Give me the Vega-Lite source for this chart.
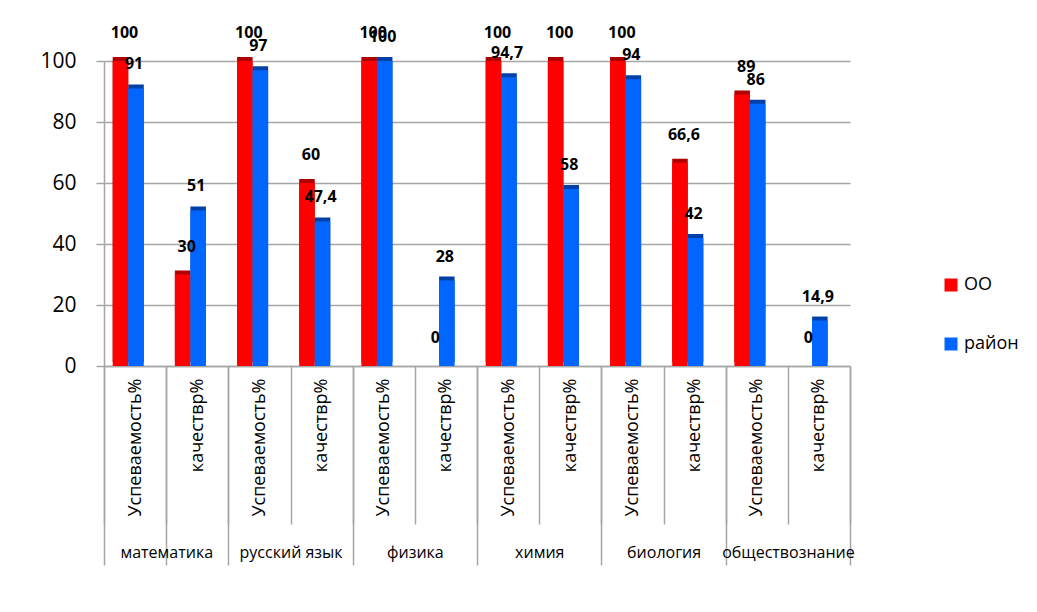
{
  "$schema": "https://vega.github.io/schema/vega-lite/v6.json",
  "width": 746,
  "height": 305,
  "autosize": {"type": "none"},
  "padding": {"left": 104, "top": 61, "right": 187, "bottom": 246},
  "background": "white",
  "data": {
    "values": [
      {"key": "математика|Успеваемость%", "series": "ОО", "value": 100, "label": "100"},
      {"key": "математика|Успеваемость%", "series": "район", "value": 91, "label": "91"},
      {"key": "математика|качествр%", "series": "ОО", "value": 30, "label": "30"},
      {"key": "математика|качествр%", "series": "район", "value": 51, "label": "51"},
      {"key": "русский язык|Успеваемость%", "series": "ОО", "value": 100, "label": "100"},
      {"key": "русский язык|Успеваемость%", "series": "район", "value": 97, "label": "97"},
      {"key": "русский язык|качествр%", "series": "ОО", "value": 60, "label": "60"},
      {"key": "русский язык|качествр%", "series": "район", "value": 47.4, "label": "47,4"},
      {"key": "физика|Успеваемость%", "series": "ОО", "value": 100, "label": "100"},
      {"key": "физика|Успеваемость%", "series": "район", "value": 100, "label": "100"},
      {"key": "физика|качествр%", "series": "ОО", "value": 0, "label": "0"},
      {"key": "физика|качествр%", "series": "район", "value": 28, "label": "28"},
      {"key": "химия|Успеваемость%", "series": "ОО", "value": 100, "label": "100"},
      {"key": "химия|Успеваемость%", "series": "район", "value": 94.7, "label": "94,7"},
      {"key": "химия|качествр%", "series": "ОО", "value": 100, "label": "100"},
      {"key": "химия|качествр%", "series": "район", "value": 58, "label": "58"},
      {"key": "биология|Успеваемость%", "series": "ОО", "value": 100, "label": "100"},
      {"key": "биология|Успеваемость%", "series": "район", "value": 94, "label": "94"},
      {"key": "биология|качествр%", "series": "ОО", "value": 66.6, "label": "66,6"},
      {"key": "биология|качествр%", "series": "район", "value": 42, "label": "42"},
      {"key": "обществознание|Успеваемость%", "series": "ОО", "value": 89, "label": "89"},
      {"key": "обществознание|Успеваемость%", "series": "район", "value": 86, "label": "86"},
      {"key": "обществознание|качествр%", "series": "ОО", "value": 0, "label": "0"},
      {"key": "обществознание|качествр%", "series": "район", "value": 14.9, "label": "14,9"}
    ]
  },
  "layer": [
    {
      "mark": {"type": "bar", "xOffset": 4, "yOffset": -4},
      "encoding": {
        "x": {
          "field": "key", "type": "nominal", "sort": null,
          "scale": {"paddingInner": 0, "paddingOuter": 0},
          "axis": {
            "orient": "bottom", "title": null,
            "labelExpr": "split(datum.value, '|')[1]",
            "labelAngle": -90, "labelFontSize": 18, "labelFont": "Open Sans", "labelColor": "black",
            "labelPadding": -146, "tickBand": "extent", "tickSize": 158,
            "tickColor": "#a6a6a6", "tickWidth": 1.5,
            "domainColor": "#a6a6a6", "domainWidth": 1.5, "grid": false, "labelOverlap": false
          }
        },
        "xOffset": {"field": "series", "type": "nominal", "sort": ["ОО", "район"], "scale": {"domain": ["ОО", "район"], "paddingOuter": 1.05, "paddingInner": 0, "align": 0.28}},
        "y": {
          "field": "value", "type": "quantitative",
          "scale": {"domain": [0, 100], "nice": false},
          "axis": {
            "title": null, "values": [0, 20, 40, 60, 80, 100],
            "labelFontSize": 21, "labelFont": "Open Sans", "labelColor": "black", "labelPadding": 20,
            "tickSize": 8, "tickColor": "#a6a6a6", "tickWidth": 1.5,
            "domainColor": "#a6a6a6", "domainWidth": 1.5,
            "grid": true, "gridColor": "#a6a6a6", "gridWidth": 1.5
          }
        },
        "color": {"condition": {"test": "datum.series === 'ОО'", "value": "#b00000"}, "value": "#0040a8"}
      }
    },
    {
      "mark": {"type": "bar"},
      "encoding": {
        "x": {"field": "key", "type": "nominal", "sort": null, "axis": null},
        "xOffset": {"field": "series", "type": "nominal", "sort": ["ОО", "район"]},
        "y": {"field": "value", "type": "quantitative"},
        "color": {
          "field": "series", "type": "nominal", "sort": ["ОО", "район"],
          "scale": {"domain": ["ОО", "район"], "range": ["#ff0000", "#0066ff"]},
          "legend": {
            "title": null, "orient": "none", "legendX": 838, "legendY": 215,
            "symbolType": "square", "symbolSize": 169, "symbolStrokeWidth": 0,
            "labelFontSize": 18, "labelFont": "Open Sans", "labelColor": "black", "rowPadding": 41
          }
        }
      }
    },
    {
      "transform": [{"filter": "datum.series === 'ОО'"}],
      "mark": {"type": "text", "fontWeight": "bold", "fontSize": 16, "font": "Open Sans", "baseline": "middle", "dy": -28, "dx": 4, "color": "black"},
      "encoding": {
        "x": {
          "field": "key", "type": "nominal", "sort": null,
          "axis": {
            "orient": "bottom", "title": null,
            "values": ["математика|качествр%", "русский язык|качествр%", "физика|качествр%", "химия|качествр%", "биология|качествр%", "обществознание|качествр%"],
            "labelExpr": "datum.value ? split(datum.value, '|')[0] : ''",
            "labelAngle": 0, "labelOffset": -31, "labelFontSize": 16, "labelFont": "Open Sans", "labelColor": "black",
            "labelPadding": -21, "tickBand": "extent", "tickExtra": false, "tickSize": 199,
            "tickColor": "#a6a6a6", "tickWidth": 1.5, "domain": false, "grid": false,
            "labelOverlap": false, "labelBound": false
          }
        },
        "xOffset": {"field": "series", "type": "nominal", "sort": ["ОО", "район"]},
        "y": {"field": "value", "type": "quantitative"},
        "text": {"field": "label", "type": "nominal"}
      }
    },
    {
      "transform": [{"filter": "datum.series === 'район'"}],
      "mark": {"type": "text", "fontWeight": "bold", "fontSize": 16, "font": "Open Sans", "baseline": "middle", "dy": -24, "dx": -2, "color": "black"},
      "encoding": {
        "x": {
          "field": "key", "type": "nominal", "sort": null,
          "axis": {
            "orient": "bottom", "title": null,
            "values": ["математика|Успеваемость%"],
            "labels": false, "tickOffset": -31.1, "tickSize": 199,
            "tickColor": "#a6a6a6", "tickWidth": 1.5, "domain": false, "grid": false
          }
        },
        "xOffset": {"field": "series", "type": "nominal", "sort": ["ОО", "район"]},
        "y": {"field": "value", "type": "quantitative"},
        "text": {"field": "label", "type": "nominal"}
      }
    }
  ],
  "resolve": {"axis": {"x": "independent"}},
  "config": {"view": {"stroke": null}}
}
